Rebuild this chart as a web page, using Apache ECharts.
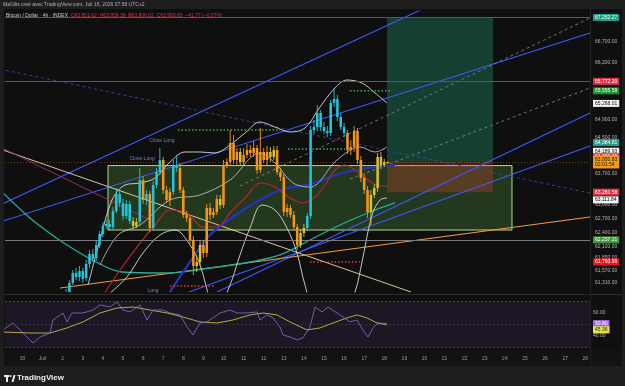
<!DOCTYPE html>
<html><head><meta charset="utf-8">
<script src="https://cdn.jsdelivr.net/npm/echarts@6/dist/echarts.min.js"></script>
<style>html,body{margin:0;padding:0;background:#1e1e1e;}#c{width:625px;height:386px;}</style>
</head><body><div id="c"></div><script>
// ---- time axis: value = day of July (0 = 30 Juin) ----
const dayTicks = [0,1,2,3,4,5,6,7,8,9,10,11,12,13,14,15,16,17,18,19,20,21,22,23,24,25,26,27,28];
const dayNames = {0:'30',1:'Juil'};
const FIRST_CANDLE_DAY = 2;      // 2 Juil 00:00
const CANDLE_STEP = 1/6;         // 4h candles

// ---- candles (BTC/USD 4h) ----
const open = [60842,60990,61096,61310,61524,61438,61566,61416,61717,61932,
61846,62127,62365,62539,62583,62518,62867,63241,63043,62757,
63021,62648,62539,62627,63550,63108,63241,62496,63439,63727,
63994,63329,63108,63285,63883,63816,63329,62779,62714,62235,
61674,61760,62127,61954,62933,62779,62845,63131,62999,63883,
63950,64375,63994,64173,63950,64106,64218,64151,64263,63772,
64173,63994,64173,64062,64218,63727,63616,62845,62933,62779,
62518,62127,62387,62496,62757,64667,64734,65051,64734,64644,
64599,65278,65369,64960,64734,64599,64218,64285,64644,63994,
63594,63329,62845,63219,63373,64062,63883,63951.62];
const close = [60990,61117,61310,61524,61438,61566,61395,61717,61932,61824,
62127,62365,62539,62583,62518,62867,63241,63043,62757,63021,
62648,62539,62627,63550,63108,63241,62496,63439,63727,63994,
63329,63108,63285,63883,63816,63329,62779,62714,62235,61674,
61760,62127,61954,62933,62779,62845,63131,62999,63883,63950,
64375,63994,64173,63950,64106,64218,64151,64263,63772,64173,
63994,64173,64062,64218,63727,63616,62845,62933,62779,62518,
62127,62387,62496,62757,64667,64734,65051,64734,64644,64599,
65278,65369,64960,64734,64599,64218,64285,64644,63994,63594,
63329,62845,63219,63373,64062,63883,63950,63950.83];
const low = [60736,60948,61054,61267,61374,61352,61310,61352,61631,61760,
61781,62062,62300,62474,62430,62452,62823,62955,62670,62692,
62583,62474,62496,62539,63021,62999,62409,62430,63373,63661,
63241,63043,62977,63219,63727,63263,62714,62627,62148,61481,
61545,61674,61846,61867,62670,62714,62779,62911,62933,63816,
63883,63905,63861,63861,63883,64039,64062,64062,63683,63705,
63927,63883,63950,63994,63661,63528,62757,62736,62714,62452,
62018,62062,62300,62430,62692,64577,64644,64644,64577,64509,
64532,65187,64870,64667,64509,64128,64106,64173,63905,63506,
63241,62714,62561,63153,63285,63794,63838,63906.02];
const high = [61033,61181,61374,61588,61631,61674,61631,61803,62018,62040,
62235,62430,62627,62692,62670,62955,63373,63329,63131,63108,
63086,62736,62714,63816,63639,63329,63307,63528,63816,64263,
64062,63417,63373,63994,64106,63927,63395,62867,62779,62322,
61911,62235,62235,63021,63043,62933,63219,63219,63994,64039,
64667,64554,64263,64263,64263,64352,64330,64420,64330,64712,
64263,64308,64285,64308,64308,63816,63683,63021,62999,62867,
62583,62474,62583,62823,64757,64892,65232,65119,64847,64757,
65346,65620,65460,65051,64825,64667,64442,64757,64712,64084,
63683,63417,63329,63461,64151,64173,64017,63958.38];
// trend-state colouring of each candle: c = cyan, o = orange, y = yellow
const candleTone = 'ccccccccccccccccccccc'+'yy'+'c'+'o'+'c'+'o'+'ccc'+'ooo'+'cc'+'ooooo'+'yy'+'o'+'o'+'ooo'+'y'+'ooooo'+'y'+'oooooooo'+'yy'+'ooooooo'+'yy'+'cccccccccccc'+'ooooooo'+'yyyyyy';

// ---- indicator curves, [day, price] ----
const bbUpper = [[3.259,61267],[3.856,62235],[4.453,63108],[5.100,63439],[5.846,63483],[6.592,63594],[7.338,63950],[8.085,64173],[8.831,64173],[9.577,64151],[10.323,64330],[11.070,64599],[11.816,64847],[12.562,64734],[13.308,64622],[14.055,64712],[14.801,65187],[15.547,65620],[16.144,65803],[16.891,65734],[17.537,65506],[18.134,65278]];
const bbMiddle = [[3.856,61695],[4.751,62343],[5.846,62561],[7.338,63108],[8.831,63219],[10.323,63550],[11.816,64151],[12.562,63927],[13.458,63483],[14.303,63395],[15.647,63994],[16.791,64285],[17.537,64173],[18.134,64285]];
const bbLower = [[4.353,61096],[5.199,61438],[5.995,61954],[6.841,62343],[7.587,62452],[8.333,62127],[8.831,61695],[9.328,60948],[9.577,60736],[10.224,61160],[10.821,61911],[11.318,62496],[11.915,62999],[12.562,62889],[13.159,62496],[13.657,61954],[14.055,61267],[14.552,60736],[16.045,60736],[16.542,61117],[16.891,61760],[17.388,62779],[17.786,63108],[18.134,63153]];
const maRed = [[3.856,60948],[4.851,61588],[5.697,62083],[6.592,62561],[7.338,62889],[8.184,62823],[8.980,62518],[9.677,62518],[10.323,62823],[11.070,63153],[11.816,63483],[12.562,63395],[13.308,63153],[13.955,63043],[14.552,63175],[15.050,63439],[15.547,63772],[16.045,63883],[16.542,63772],[17.040,63594],[17.637,63439],[18.134,63417]];
const maTeal = [[-1.119,63329],[0.373,62714],[1.617,62300],[2.612,62018],[3.756,61738],[4.950,61545],[7.090,61524],[9.328,61631],[11.318,61760],[12.811,61911],[14.303,62235],[15.796,62561],[17.289,62845],[18.532,63043]];
const maBlue = [[7.338,61117],[8.333,61760],[9.328,62343],[10.821,62845],[11.816,63108],[12.811,63329],[14.303,63461],[15.896,63705],[17.537,63838],[18.532,63883]];

// ---- drawings: trend lines [[day,price],[day,price]] ----
const blueLines = [
  [[-1.119,62999],[20.871,67663]],
  [[-1.119,62627],[28.234,66890]],
  [[9.677,61117],[28.234,65051]],
  [[8.284,61117],[28.234,64308]]
];
const grayDashed = [
  [[10.821,63417],[28.234,67240]],
  [[16.294,63572],[28.234,65620]]
];
const navyDashed = [[-1.119,66055],[28.234,63263]];
const creamLine = [[-1.119,64240],[19.328,61117]];
const orangeLine = [[1.866,61203],[28.234,62736]];
const magentaLine = [[-1.119,64285],[6.343,62670]];
const greenDots = [ [[7.736,64667],[12.811,64667]], [[13.209,64240],[16.045,64240]], [[16.294,65555.59],[18.333,65555.59]] ];
const redDots = [ [[14.303,61760.99],[16.791,61760.99]], [[7.338,61245],[9.577,61245]] ];

// ---- zones ----
const rangeBox = {x1:4.254, x2:24.353, low:62452, high:63870};
const position = {x1:18.134, x2:23.408, entry:63950.83, target:67252.27, stop:63281.58};
const hLines = {target:67252.27, resistance:65772.20, support:62237.21};

// ---- price scale ----
const priceTicks = [66700,66200,64900,64500,63700,63000,62700,62400,62100,61850,61570,61310];
const priceTags = [
  {v:67252.27, bg:'#1f9e8a', fg:'#fff'},
  {v:65772.20, bg:'#e0324a', fg:'#fff'},
  {v:65555.59, bg:'#1e8f2e', fg:'#fff'},
  {v:65268.01, bg:'#f2f2f2', fg:'#111'},
  {v:64384.81, bg:'#1f9e8a', fg:'#fff'},
  {v:64189.93, bg:'#f2f2f2', fg:'#111'},
  {v:64069.38, bg:'#e0324a', fg:'#fff'},
  {v:63281.58, bg:'#e0324a', fg:'#fff'},
  {v:63111.84, bg:'#f2f2f2', fg:'#111'},
  {v:62237.21, bg:'#3f9a3a', fg:'#fff'},
  {v:61760.99, bg:'#e8141e', fg:'#fff'}
];
const lastPrice = 63950.83, countdown = '02:01:54';

// ---- RSI pane ----
const rsi = [[-1.119,43.5],[-0.473,51.3],[0.025,42.6],[0.522,33.9],[0.871,39.1],[1.368,42.6],[1.517,53.9],[2.015,60.0],[2.214,52.2],[2.463,60.0],[3.01,60.0],[3.507,62.6],[3.856,67.0],[4.353,65.2],[4.701,69.6],[5.0,62.6],[5.348,60.9],[5.846,67.0],[6.194,53.9],[6.493,62.6],[6.99,62.6],[7.338,60.0],[7.836,58.3],[8.184,47.8],[8.483,40.9],[8.831,51.3],[9.179,52.2],[9.826,60.0],[10.323,62.6],[10.672,60.0],[11.169,60.0],[11.667,60.9],[11.816,53.9],[12.164,58.3],[12.463,55.7],[12.811,47.8],[12.96,40.9],[13.308,39.1],[13.657,36.5],[13.955,38.3],[14.303,47.8],[14.552,65.2],[14.9,60.9],[15.199,65.2],[15.647,60.0],[15.945,56.5],[16.294,52.2],[16.642,53.9],[16.94,45.2],[17.189,39.1],[17.438,47.0],[17.687,51.3],[18.134,50.8]];
const rsiMa = [[-1.119,43.5],[0.373,42.6],[1.368,42.6],[2.214,47.0],[3.01,52.2],[3.856,60.0],[4.701,64.3],[5.498,65.2],[6.343,62.6],[7.189,60.0],[7.985,56.5],[8.831,52.2],[9.677,51.3],[10.473,53.9],[11.318,58.3],[11.965,60.0],[12.662,58.3],[13.308,52.2],[14.154,45.2],[14.801,47.0],[15.448,51.3],[16.144,55.7],[16.642,58.3],[17.139,55.7],[17.637,51.3],[18.134,49.6]];
const rsiTicks = [60, 40];
const rsiTags = [{v:50.80, bg:'#9c6ade', fg:'#fff'},{v:45.36, bg:'#e4e640', fg:'#222'}];

// =================== build ===================
const FONT = 'Liberation Sans, DejaVu Sans, sans-serif';
const toneColor = {c:'#27c3d8', o:'#f5961c', y:'#d9c22e'};
const fmt = v => v.toLocaleString('en-US',{minimumFractionDigits:2, maximumFractionDigits:2});
const candles = open.map((o,i)=>[FIRST_CANDLE_DAY + i*CANDLE_STEP, o, close[i], low[i], high[i], i]);
const NOLINE = {color:'rgba(0,0,0,0)', width:0};

function seg(data, color, width, type, z){
  return {type:'line', xAxisIndex:0, yAxisIndex:0, data, symbol:'none', silent:true, z:z||3,
    lineStyle:{color, width, type:type||'solid'}, animation:false};
}
function curve(data, color, width, z){
  const s = seg(data, color, width, 'solid', z); s.smooth = 0.35; return s;
}

const series = [];
// zones
series.push({type:'line', xAxisIndex:0, yAxisIndex:0, data:[], silent:true, z:1, animation:false,
  markArea:{silent:true, data:[
    [{xAxis:rangeBox.x1, yAxis:rangeBox.low, itemStyle:{color:'rgba(96,175,70,0.26)', borderColor:'#b3dc86', borderWidth:1}}, {xAxis:rangeBox.x2, yAxis:rangeBox.high}],
    [{xAxis:position.x1, yAxis:position.entry, itemStyle:{color:'rgba(34,150,110,0.36)'}}, {xAxis:position.x2, yAxis:position.target}],
    [{xAxis:position.x1, yAxis:position.stop, itemStyle:{color:'rgba(200,70,50,0.32)'}}, {xAxis:position.x2, yAxis:position.entry}]
  ]}});
// horizontal lines
series.push({type:'line', xAxisIndex:0, yAxisIndex:0, data:[], silent:true, z:2, animation:false,
  markLine:{silent:true, symbol:['none','none'], label:{show:false}, data:[
    {yAxis:hLines.target, lineStyle:{color:'#b23241', width:1, type:'solid'}},
    {yAxis:hLines.resistance, lineStyle:{color:'#b8303f', width:1, type:'solid'}},
    {yAxis:hLines.support, lineStyle:{color:'#7a7a7a', width:1, type:'solid'}}
  ]}});
// trend lines
blueLines.forEach(l=>series.push(seg(l,'#3d5afe',1.1)));
grayDashed.forEach(l=>series.push(seg(l,'#8d8d8d',0.8,[3,3])));
series.push(seg(navyDashed,'#3848a8',0.9,[3,3]));
series.push(seg(creamLine,'#e8dcb0',0.9));
series.push(seg(orangeLine,'#f59a3c',1.1));
series.push(seg(magentaLine,'#a0307a',0.9));
// indicators
series.push(curve(maTeal,'#1fae9a',1.3));
series.push(curve(maBlue,'#2233c8',2.2));
series.push(curve(maRed,'#b3262f',1.2));
series.push(curve(bbUpper,'#d9d9d9',0.9));
series.push(curve(bbMiddle,'#cfcfcf',0.8));
series.push(curve(bbLower,'#d9d9d9',0.9));
greenDots.forEach(l=>series.push(seg(l,'#3fae49',1.6,[1.5,2])));
redDots.forEach(l=>series.push(seg(l,'#e53935',1.6,[1.5,2])));
// candles
series.push({type:'custom', xAxisIndex:0, yAxisIndex:0, data:candles, clip:true, z:6, animation:false,
  renderItem:(params, api)=>{
    const d=api.value(0), o=api.value(1), c=api.value(2), l=api.value(3), h=api.value(4), i=api.value(5);
    const col = toneColor[candleTone[i]];
    const pO=api.coord([d,o]), pC=api.coord([d,c]), pL=api.coord([d,l]), pH=api.coord([d,h]);
    const w=(api.coord([d+CANDLE_STEP,o])[0]-pO[0])*0.76;
    const top=Math.min(pO[1],pC[1]), hgt=Math.max(1,Math.abs(pO[1]-pC[1]));
    return {type:'group', children:[
      {type:'line', shape:{x1:pH[0],y1:pH[1],x2:pL[0],y2:pL[1]}, style:{stroke:col, lineWidth:0.9}},
      {type:'rect', shape:{x:pO[0]-w/2, y:top, width:w, height:hgt}, style:{fill:col}}
    ]};
  }});
// trade annotations
series.push({type:'scatter', xAxisIndex:0, yAxisIndex:0, symbolSize:0, silent:true, z:7, animation:false,
  data:[{value:[5.95,64030], name:'Close Long'},{value:[6.94,64430], name:'Close Long'},{value:[6.493,61150], name:'Long'}],
  label:{show:true, formatter:p=>p.name, color:'#8c9ee0', fontSize:5, fontFamily:FONT, position:'inside'}});
// last price dotted line
series.push({type:'line', xAxisIndex:0, yAxisIndex:0, data:[], silent:true, z:3, animation:false,
  markLine:{silent:true, symbol:['none','none'], label:{show:false},
    data:[{yAxis:lastPrice, lineStyle:{color:'#f39c12', width:0.6, type:[1,2], opacity:0.7}}]}});
// price scale labels
const scaleMarks = priceTicks.map(v=>({yAxis:v, lineStyle:NOLINE,
  label:{formatter:fmt(v), color:'#b4b4b4', padding:[0,2]}}));
priceTags.forEach(t=>scaleMarks.push({yAxis:t.v, lineStyle:NOLINE,
  label:{formatter:fmt(t.v), color:t.fg, backgroundColor:t.bg, padding:[1,2]}}));
scaleMarks.push({yAxis:lastPrice, lineStyle:NOLINE,
  label:{formatter:fmt(lastPrice)+'\n'+countdown, color:'#111', backgroundColor:'#f39c12', padding:[1,2], lineHeight:5.5}});
series.push({type:'line', xAxisIndex:0, yAxisIndex:0, data:[], silent:true, z:20, animation:false,
  markLine:{silent:true, symbol:['none','none'], animation:false,
    label:{show:true, position:'end', distance:3, fontSize:5, fontFamily:FONT},
    data:scaleMarks}});

// RSI
series.push({type:'line', xAxisIndex:1, yAxisIndex:1, data:[], silent:true, z:1, animation:false,
  markArea:{silent:true, data:[[{yAxis:30, itemStyle:{color:'rgba(110,70,180,0.14)'}},{yAxis:70}]]},
  markLine:{silent:true, symbol:['none','none'], animation:false,
    label:{show:true, position:'end', distance:3, fontSize:5, fontFamily:FONT},
    data:[
      {yAxis:70, lineStyle:{color:'#6a6a6a', width:0.6, type:[2,2]}, label:{show:false}},
      {yAxis:50, lineStyle:{color:'#555', width:0.5, type:[2,2]}, label:{show:false}},
      {yAxis:30, lineStyle:{color:'#6a6a6a', width:0.6, type:[2,2]}, label:{show:false}},
      ...rsiTicks.map(v=>({yAxis:v, lineStyle:NOLINE, label:{formatter:fmt(v), color:'#b4b4b4'}})),
      ...rsiTags.map(t=>({yAxis:t.v, lineStyle:NOLINE, label:{formatter:fmt(t.v), color:t.fg, backgroundColor:t.bg, padding:[1,2]}}))
    ]}});
series.push({type:'line', xAxisIndex:1, yAxisIndex:1, data:rsiMa, symbol:'none', silent:true, z:3, animation:false, lineStyle:{color:'#c9bb45', width:0.9}});
series.push({type:'line', xAxisIndex:1, yAxisIndex:1, data:rsi, symbol:'none', silent:true, z:4, animation:false, lineStyle:{color:'#8a72c8', width:0.8}});

const X0 = -0.871, X1 = 28.234;
const hidden = {axisLine:{show:false}, axisTick:{show:false}, axisLabel:{show:false}, splitLine:{show:false}};
const option = {
  backgroundColor:'#1e1e1e',
  animation:false,
  textStyle:{fontFamily:FONT},
  grid:[{left:5, right:35, top:11, height:281}, {left:5, right:35, top:297, height:53}],
  xAxis:[
    Object.assign({type:'value', gridIndex:0, min:X0, max:X1}, hidden),
    {type:'value', gridIndex:1, min:X0, max:X1, axisLine:{show:false}, axisTick:{show:false}, splitLine:{show:false},
      axisLabel:{show:true, customValues:dayTicks, formatter:v=>dayNames[v]!==undefined?dayNames[v]:String(v), color:'#9a9a9a', fontSize:5, margin:6, fontFamily:FONT}}
  ],
  yAxis:[
    Object.assign({type:'log', logBase:10, gridIndex:0, min:61117.6, max:67404.5}, hidden),
    Object.assign({type:'value', gridIndex:1, min:27.8, max:73.9}, hidden)
  ],
  graphic:[
    {type:'rect', z:-10, shape:{x:4, y:9, width:618, height:357}, style:{fill:'#0f0f0f'}},
    {type:'rect', z:-9, shape:{x:4, y:350, width:618, height:16}, style:{fill:'#121212'}},
    {type:'line', z:-8, shape:{x1:4, y1:294.5, x2:622, y2:294.5}, style:{stroke:'#2c2c2c', lineWidth:1}},
    {type:'line', z:-8, shape:{x1:590.5, y1:9, x2:590.5, y2:366}, style:{stroke:'#222', lineWidth:1}},
    {type:'text', x:3, y:2, style:{text:'MaGilis créé avec TradingView.com, Juil 18, 2026 07:58 UTC+2', fill:'#b0b0b0', font:'5px '+FONT}},
    {type:'text', x:6, y:13, z:30, style:{rich:{a:{fill:'#c8c8c8', font:'5px '+FONT}, b:{fill:'#e0323f', font:'5px '+FONT}},
      text:'{a|Bitcoin / Dollar · 4h · INDEX  }{b|O63,951.62  H63,958.38  B63,906.02  C63,950.83  −41.77 (−0.07%)}'}},
    {type:'rect', shape:{x:4, y:375, width:5, height:2}, style:{fill:'#eee'}},
    {type:'rect', shape:{x:6, y:375, width:2, height:7}, style:{fill:'#eee'}},
    {type:'circle', shape:{cx:10.5, cy:376, r:1.1}, style:{fill:'#eee'}},
    {type:'polygon', shape:{points:[[11.5,382],[13.5,375],[15.5,375],[13.5,382]]}, style:{fill:'#eee'}},
    {type:'text', x:17, y:374, style:{text:'TradingView', fill:'#eeeeee', font:'bold 8px '+FONT}}
  ],
  series
};
const chart = echarts.init(document.getElementById('c'), null, {renderer:'canvas'});
chart.setOption(option);
</script></body></html>
